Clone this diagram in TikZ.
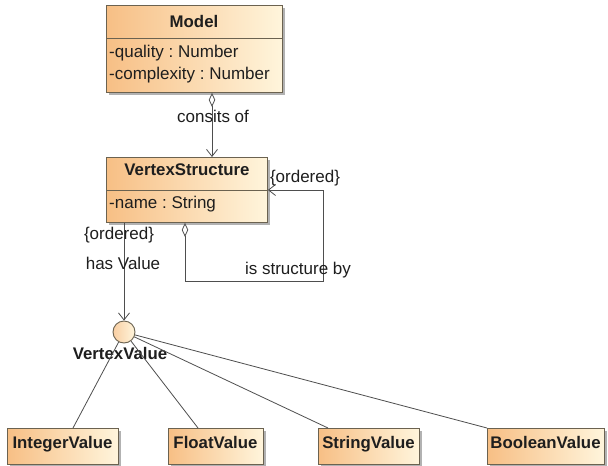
\documentclass[tikz,border=0pt]{standalone}
\usepackage{fontspec}
\setmainfont{Liberation Sans}
\usetikzlibrary{arrows.meta,shadows}

\definecolor{clsorange}{HTML}{F7BF85}
\definecolor{clscream}{HTML}{FFF5DC}
\definecolor{clsborder}{HTML}{6B6250}
\definecolor{txtdark}{HTML}{1E1E1E}
\definecolor{wire}{HTML}{4E4E4E}

\tikzset{
  classbox/.style={draw=clsborder, line width=0.9pt, inner sep=0pt,
    left color=clsorange, right color=clscream, anchor=north west,
    drop shadow={shadow xshift=3pt, shadow yshift=-3pt, fill=black, opacity=0.3}},
  classname/.style={inner sep=0pt, text=txtdark, font=\fontsize{16.8}{20}\selectfont\bfseries},
  attr/.style={inner sep=0pt, text=txtdark, font=\fontsize{17}{20}\selectfont\frenchspacing, anchor=base west},
  lbl/.style={inner sep=0pt, text=txtdark, font=\fontsize{17}{20}\selectfont\frenchspacing},
  assoc/.style={draw=wire, line width=0.8pt},
  aggr/.style={assoc, {Diamond[open,length=14pt,width=6.5pt]}-{Straight Barb[length=7pt,width=11pt]}},
  navig/.style={assoc, -{Straight Barb[length=7pt,width=11pt]}},
  realize/.style={draw=wire, line width=0.8pt},
}

\begin{document}
\begin{tikzpicture}[x=1pt, y=-1pt]
  \fill[white] (0,0) rectangle (608,466);
  \useasboundingbox (0,0) rectangle (608,466);

  % class Model
  \node[classbox, minimum width=176pt, minimum height=87pt] (model) at (106,5) {};
  \draw[clsborder, line width=0.9pt] (model.west |- 0,38) -- (model.east |- 0,38);
  \node[classname, anchor=base] (modelname) at (194,27) {Model};
  \node[attr] (modelq) at (109,57) {-quality : Number};
  \node[attr] (modelc) at (109,79) {-complexity : Number};

  % class VertexStructure
  \node[classbox, minimum width=161pt, minimum height=65pt] (vs) at (106,157) {};
  \draw[clsborder, line width=0.9pt] (vs.west |- 0,190) -- (vs.east |- 0,190);
  \node[classname, anchor=base] (vsname) at (187,175) {VertexStructure};
  \node[attr] (vsn) at (109,208) {-name : String};

  % interface VertexValue (lollipop)
  \node[circle, draw=clsborder, line width=0.9pt, minimum size=22pt, inner sep=0pt,
        left color=clsorange!75, right color=clscream] (vv) at (124,332) {};
  \node[classname] (vvname) at (120,353) {VertexValue};

  % value classes
  \node[classbox, minimum width=111pt, minimum height=36pt] (iv) at (7,428) {};
  \node[classname, anchor=base] (ivname) at (62.5,448) {IntegerValue};
  \node[classbox, minimum width=95pt, minimum height=36pt] (fv) at (168,428) {};
  \node[classname, anchor=base] (fvname) at (215.5,448) {FloatValue};
  \node[classbox, minimum width=101pt, minimum height=36pt] (sv) at (318,428) {};
  \node[classname, anchor=base] (svname) at (368.5,448) {StringValue};
  \node[classbox, minimum width=117pt, minimum height=36pt] (bv) at (487,428) {};
  \node[classname, anchor=base] (bvname) at (545.5,448) {BooleanValue};

  % Model consists of VertexStructure
  \draw[aggr] (model.south -| 212,0) -- (vs.north -| 212,0);
  \node[lbl] (consits) at (213,116) {consits of};

  % VertexStructure is structured by itself
  \draw[aggr] (vs.south -| 185,0) |- (323,281) |- (vs.east |- 0,190);
  \node[lbl] (ordr) at (305,178) {\{ordered\}};
  \node[lbl] (isstr) at (298,270) {is structure by};

  % VertexStructure has VertexValue
  \draw[navig] (vs.south -| 124,0) -- (vv);
  \node[lbl] (ordl) at (119,235) {\{ordered\}};
  \node[lbl] (hasv) at (123,263) {has Value};

  % realizations of VertexValue
  \draw[realize] (vv) -- ([xshift=66pt]iv.north west);
  \draw[realize] (vv) -- ([xshift=30pt]fv.north west);
  \draw[realize] (vv) -- ([xshift=10pt]sv.north west);
  \draw[realize] (vv) -- (bv.north west);
\end{tikzpicture}
\end{document}
